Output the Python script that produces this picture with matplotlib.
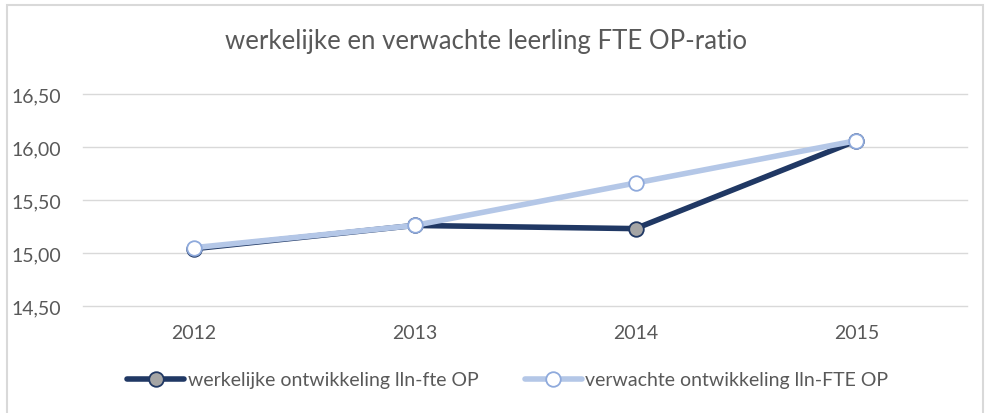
import numpy as np
import matplotlib.pyplot as plt
from matplotlib.patches import Rectangle
from matplotlib.ticker import FuncFormatter

plt.rcParams['font.family'] = ['Lato', 'DejaVu Sans']

years = ['2012', '2013', '2014', '2015']
werkelijk = [15.04, 15.26, 15.23, 16.06]
verwacht = [15.05, 15.26, 15.66, 16.06]
yticks = [14.5, 15.0, 15.5, 16.0, 16.5]

dark = '#203864'
light = '#B4C7E7'
textc = '#595959'

fig = plt.figure(figsize=(9.92, 4.14), dpi=100)
ax = fig.add_axes([83 / 992, 1 - 307 / 414, 884 / 992, 212 / 414])

x = np.arange(len(years))
ax.plot(x, werkelijk, color=dark, linewidth=4, marker='o', markersize=10.5,
        markerfacecolor='#A5A5A5', markeredgecolor=dark, markeredgewidth=1.3,
        solid_capstyle='round', label='werkelijke ontwikkeling lln-fte OP', zorder=3)
ax.plot(x, verwacht, color=light, linewidth=4, marker='o', markersize=10.5,
        markerfacecolor='white', markeredgecolor='#8FAADC', markeredgewidth=1.3,
        solid_capstyle='round', label='verwachte ontwikkeling lln-FTE OP', zorder=4)

ax.set_xlim(-0.5, 3.5)
ax.set_ylim(14.5, 16.5)
ax.set_xticks(x)
ax.set_xticklabels(years)
ax.set_yticks(yticks)
ax.yaxis.set_major_formatter(FuncFormatter(lambda v, p: f'{v:.2f}'.replace('.', ',')))
ax.tick_params(axis='both', length=0, labelsize=14, colors=textc)
ax.tick_params(axis='x', pad=13)
ax.tick_params(axis='y', pad=16)
# gridlijnen, ook de onderste op de rand
for v in yticks:
    ax.axhline(v, color='#D9D9D9', linewidth=1, zorder=1, clip_on=False)
for s in ax.spines.values():
    s.set_visible(False)

fig.text(486 / 992, 1 - 42 / 414, 'werkelijke en verwachte leerling FTE OP-ratio',
         ha='center', va='center', fontsize=18.5, color=textc)

leg = fig.legend(loc='center', bbox_to_anchor=(508 / 992, 1 - 381 / 414), ncol=2,
                 frameon=False, fontsize=14, handlelength=2.9, handletextpad=0.2,
                 columnspacing=2.4)
for t in leg.get_texts():
    t.set_color(textc)

fig.patches.append(Rectangle((7 / 992, -0.1), 976 / 992, 1.1 - 6 / 414,
                             transform=fig.transFigure, fill=False,
                             edgecolor='#D9D9D9', linewidth=1.5))

fig.savefig('out.png', dpi=100)
